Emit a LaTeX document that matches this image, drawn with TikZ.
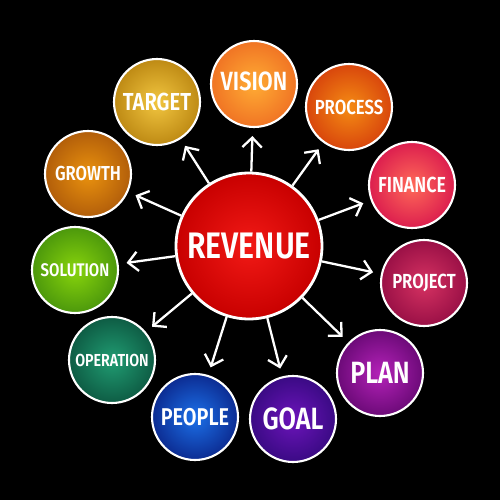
\documentclass[tikz,border=0pt]{standalone}
\usepackage{fontspec}
\setmainfont{Fira Sans}[FakeStretch=0.82, BoldFont={Fira Sans SemiBold}]
\usetikzlibrary{arrows.meta}

\definecolor{revA}{HTML}{F21A16}\definecolor{revB}{HTML}{C80000}
\definecolor{visA}{HTML}{FFAC34}\definecolor{visB}{HTML}{F07424}
\definecolor{proA}{HTML}{F58C14}\definecolor{proB}{HTML}{D8460C}
\definecolor{finA}{HTML}{FF6A58}\definecolor{finB}{HTML}{DC1E4E}
\definecolor{prjA}{HTML}{D63262}\definecolor{prjB}{HTML}{9A1046}
\definecolor{plnA}{HTML}{B422B8}\definecolor{plnB}{HTML}{6C0A78}
\definecolor{goaA}{HTML}{6C14BA}\definecolor{goaB}{HTML}{3A0A84}
\definecolor{peoA}{HTML}{1C70E8}\definecolor{peoB}{HTML}{0C2C92}
\definecolor{opeA}{HTML}{209C72}\definecolor{opeB}{HTML}{0E5C44}
\definecolor{solA}{HTML}{88D40C}\definecolor{solB}{HTML}{4C980C}
\definecolor{groA}{HTML}{EA920E}\definecolor{groB}{HTML}{B25E0A}
\definecolor{tarA}{HTML}{F2C640}\definecolor{tarB}{HTML}{BE8A14}

\begin{document}
\begin{tikzpicture}[x=0.02cm,y=-0.02cm,
	topic/.style={circle, draw=white, line width=1.2pt, shading=radial, minimum size=1.72cm, inner sep=0pt, text=white},
	link/.style={draw=white, line width=1.3pt, -{Straight Barb[length=5.5pt,width=11pt]}, shorten >=0.16cm}]
				\fill[black] (0,0) rectangle (500,500);
				
				\node (revenue) [topic, minimum size=2.92cm, line width=1.6pt, inner color=revA, outer color=revB, font=\bfseries\fontsize{21}{21}\selectfont] at (249,246) {REVENUE};
				
				\node (vision) [topic, inner color=visA, outer color=visB, font=\bfseries\fontsize{15}{15}\selectfont, text depth=0.12cm] at (254,84) {VISION};
				\node (process) [topic, inner color=proA, outer color=proB, font=\bfseries\fontsize{11.6}{12}\selectfont] at (349,107) {PROCESS};
				\node (finance) [topic, inner color=finA, outer color=finB, font=\bfseries\fontsize{12.4}{13}\selectfont] at (412,185) {FINANCE};
				\node (project) [topic, inner color=prjA, outer color=prjB, font=\bfseries\fontsize{11.6}{12}\selectfont] at (424,283) {PROJECT};
				\node (plan) [topic, inner color=plnA, outer color=plnB, font=\bfseries\fontsize{17.5}{18}\selectfont] at (380,373) {PLAN};
				\node (goal) [topic, inner color=goaA, outer color=goaB, font=\bfseries\fontsize{17.5}{18}\selectfont] at (293,419) {GOAL};
				\node (people) [topic, inner color=peoA, outer color=peoB, font=\bfseries\fontsize{13.8}{14}\selectfont] at (195,417) {PEOPLE};
				\node (operation) [topic, inner color=opeA, outer color=opeB, font=\bfseries\fontsize{9.9}{10}\selectfont] at (112,360) {OPERATION};
				\node (solution) [topic, inner color=solA, outer color=solB, font=\bfseries\fontsize{10.4}{11}\selectfont] at (75,270) {SOLUTION};
				\node (growth) [topic, inner color=groA, outer color=groB, font=\bfseries\fontsize{11.5}{12}\selectfont] at (88,174) {GROWTH};
				\node (target) [topic, inner color=tarA, outer color=tarB, font=\bfseries\fontsize{14}{14}\selectfont] at (157,102) {TARGET};
				
				% Arrows
				\draw[link] (revenue) -- (vision);
				\draw[link] (revenue) -- (process);
				\draw[link] (revenue) -- (finance);
				\draw[link] (revenue) -- (project);
				\draw[link] (revenue) -- (plan);
				\draw[link] (revenue) -- (goal);
				\draw[link] (revenue) -- (people);
				\draw[link] (revenue) -- (operation);
				\draw[link] (revenue) -- (solution);
				\draw[link] (revenue) -- (growth);
				\draw[link] (revenue) -- (target);
				
			\end{tikzpicture}
\end{document}
